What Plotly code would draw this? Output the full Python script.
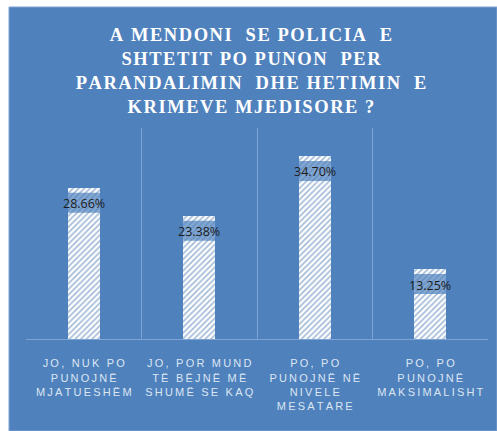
import plotly.graph_objects as go

# Survey answers and shares (%)
categories = [
    "JO, NUK PO|PUNOJNË|MJATUESHËM",
    "JO, POR MUND|TË BËJNË MË|SHUMË SE KAQ",
    "PO, PO|PUNOJNË NË|NIVELE|MESATARE",
    "PO, PO|PUNOJNË|MAKSIMALISHT",
]
shares = [28.66, 23.38, 34.70, 13.25]
title_lines = [
    "A MENDONI  SE POLICIA  E",
    "SHTETIT PO PUNON  PER",
    "PARANDALIMIN  DHE HETIMIN  E",
    "KRIMEVE MJEDISORE ?",
]

BLUE = "#4f81bd"
GRID = "#7fa3d3"
THIN = "\u2009"
HAIR = "\u200a"


def spaced(text, gap):
    """Open up letter spacing by inserting narrow spaces between glyphs."""
    return gap.join(text)


tick_text = ["<br>".join(spaced(line, THIN) for line in c.split("|")) for c in categories]
title_text = "<br>".join(spaced(line, HAIR) for line in title_lines)

bar_width = 0.28

fig = go.Figure()
fig.add_trace(go.Bar(
    x=categories,
    y=shares,
    width=bar_width,
    marker=dict(
        color="white",
        line=dict(width=0),
        pattern=dict(shape="/", fgcolor="#4474b0", bgcolor="white", size=4, solidity=0.4),
    ),
    hoverinfo="skip",
))

shapes = [
    # blue chart panel
    dict(type="rect", xref="paper", yref="paper",
         x0=-17 / 462, x1=471 / 462, y0=-92 / 211, y1=332 / 211,
         fillcolor=BLUE, line=dict(color=GRID, width=1), layer="below"),
]
annotations = []
for i, v in enumerate(shares):
    # translucent label box under the hatched cap
    shapes.append(dict(
        type="rect", xref="x", yref="y", ysizemode="pixel", yanchor=v,
        x0=i - bar_width / 2, x1=i + bar_width / 2, y0=-5, y1=-25,
        fillcolor="rgba(79,129,189,0.7)", line=dict(width=0), layer="above",
    ))
    annotations.append(dict(
        x=i, y=v, xref="x", yref="y", yshift=-16, yanchor="middle",
        text=f"{v:.2f}%", showarrow=False,
        font=dict(family="Open Sans, Liberation Sans", size=12.5, color="#1c1c1c"),
    ))

fig.update_layout(
    width=497, height=431,
    margin=dict(l=26, r=9, t=128, b=92, autoexpand=False),
    paper_bgcolor="white",
    plot_bgcolor="rgba(0,0,0,0)",
    showlegend=False,
    bargap=0,
    title=dict(
        text=title_text, xref="container", x=0.505, xanchor="center",
        yref="container", y=1 - 41 / 431, yanchor="top",
        font=dict(family="Liberation Serif, DejaVu Serif, serif", size=18.5,
                  color="white", weight="bold"),
    ),
    xaxis=dict(
        type="category", range=[-0.5, 3.5], tickmode="array",
        tickvals=categories, ticktext=tick_text, tickangle=0, automargin=False,
        tickson="boundaries", showgrid=True, gridcolor=GRID, gridwidth=1,
        showline=True, linecolor=GRID, linewidth=1, ticks="",
        tickfont=dict(family="Liberation Sans", size=11, color="#dce6f2"),
        ticklabelstandoff=14, fixedrange=True,
    ),
    yaxis=dict(range=[0, 40], visible=False, fixedrange=True),
    shapes=shapes,
    annotations=annotations,
)

fig.write_html("out.html")
